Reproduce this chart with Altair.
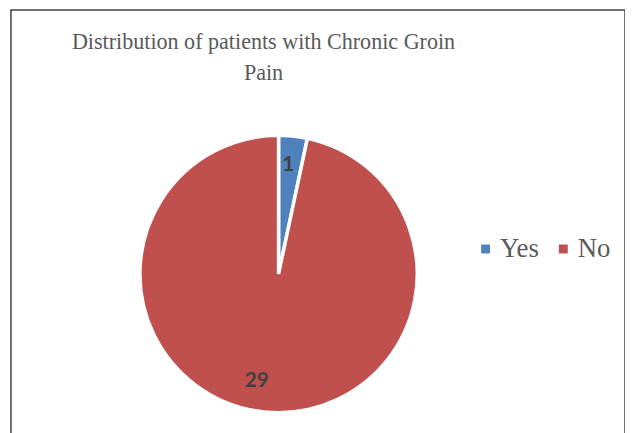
import altair as alt
import pandas as pd

categories = ["Yes", "No"]
counts = [1, 29]
colors = ["#4F81BD", "#C0504D"]
title_lines = ["Distribution of patients with Chronic Groin", "Pain"]

df = pd.DataFrame({"category": categories, "count": counts,
                   "idx": list(range(len(categories)))})
title_df = pd.DataFrame({"title": ["\n".join(title_lines)]})

CX, CY = 270.2, 266.5

pie = alt.Chart(df).mark_arc(outerRadius=140, stroke="white", strokeWidth=3.5).encode(
    theta=alt.Theta("count:Q", stack=True),
    order=alt.Order("idx:Q"),
    color=alt.Color(
        "category:N",
        scale=alt.Scale(domain=categories, range=colors),
        legend=alt.Legend(
            title=None, orient="none", legendX=465.7, legendY=227.5,
            direction="horizontal", symbolType="square", symbolSize=81,
            symbolStrokeWidth=0, labelFont="Liberation Serif", labelFontSize=27,
            labelColor="#595959", columnPadding=10.5, labelOffset=1, padding=0,
        ),
    ),
    x=alt.value(CX), y=alt.value(CY),
)

labels = (
    alt.Chart(df)
    .transform_joinaggregate(total="sum(count)")
    .transform_window(cum="sum(count)", sort=[alt.SortField("idx")])
    .transform_calculate(mid="(datum.cum - datum.count/2)/datum.total")
)
theta_mid = alt.Theta("mid:Q", scale=alt.Scale(domain=[0, 1], range=[0, 6.283185]))
txt = dict(font="Lato", fontWeight="bold", fontSize=21, color="#404040")

lab_yes = labels.transform_filter(alt.datum.category == "Yes").mark_text(
    radius=112, dx=-2, dy=1, **txt
).encode(theta=theta_mid, text="count:Q", x=alt.value(CX), y=alt.value(CY))

lab_no = labels.transform_filter(alt.datum.category == "No").mark_text(
    radius=108, dx=-10.7, dy=0.3, **txt
).encode(theta=theta_mid, text="count:Q", x=alt.value(CX), y=alt.value(CY))

title = alt.Chart(title_df).mark_text(
    font="Liberation Serif", fontSize=22.3, color="#595959",
    lineHeight=31, align="center", baseline="alphabetic", lineBreak="\n",
).encode(text="title:N", x=alt.value(255), y=alt.value(39.5))

chart = (
    alt.layer(pie, lab_yes, lab_no, title)
    .resolve_scale(theta="independent")
    .properties(
        width=620, height=430,
        padding={"left": 3, "top": 0, "right": 0, "bottom": 0},
    )
    .configure_view(stroke="#404040", strokeWidth=1.5)
)

chart.save("out.html", embed_options={"renderer": "svg", "actions": False})
